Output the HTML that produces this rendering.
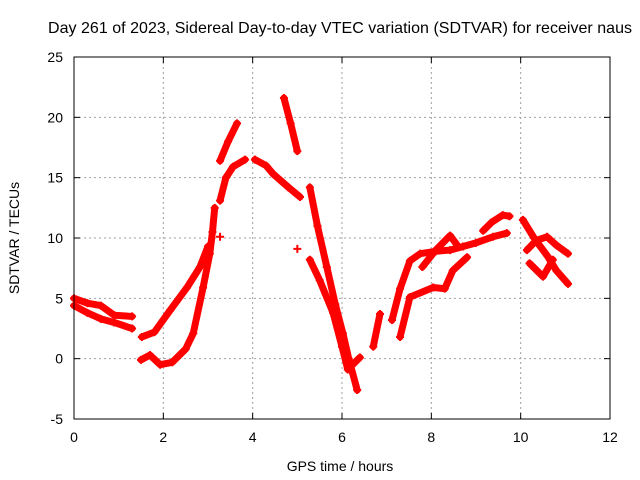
<!DOCTYPE html>
<html><head><meta charset="utf-8"><style>
body{margin:0;background:#fff;}
svg{display:block;font-family:"Liberation Sans",sans-serif;}
</style></head><body>
<svg id="chart" width="640" height="480">
<rect width="640" height="480" fill="#fff"/>
<text x="340" y="33" font-size="16" text-anchor="middle" textLength="584">Day 261 of 2023, Sidereal Day-to-day VTEC variation (SDTVAR) for receiver naus</text>
<text x="340" y="471" font-size="14" text-anchor="middle">GPS time / hours</text>
<text x="0" y="0" font-size="14" text-anchor="middle" transform="translate(19,238) rotate(-90)">SDTVAR / TECUs</text>
<g id="grid"></g>
<g id="ticks"></g>
<g id="series"></g>
<rect x="74" y="57" width="536" height="362" fill="none" stroke="#000" stroke-width="1"/>
</svg>
<script>
const xTicks=[0,2,4,6,8,10,12];
const yTicks=[-5,0,5,10,15,20,25];
const trace1=[[0,5.0],[0.3,4.6],[0.6,4.4],[0.9,3.6],[1.3,3.5]];
const trace2=[[0,4.4],[0.3,3.8],[0.6,3.3],[0.9,3.0],[1.3,2.5]];
const trace3=[[1.5,-0.1],[1.7,0.3],[1.93,-0.5],[2.2,-0.3],[2.5,0.8],[2.67,2.1],[2.89,5.9],[3.04,8.7],[3.1,10.5],[3.15,12.5]];
const trace4=[[1.52,1.8],[1.8,2.2],[2.15,4.0],[2.53,5.9],[2.82,7.6],[3.0,9.3]];
const trace5=[[3.27,13.1],[3.4,15.0],[3.56,15.9],[3.83,16.5]];
const trace6=[[3.27,16.4],[3.45,18.0],[3.65,19.5]];
const trace7=[[4.05,16.5],[4.3,16.0],[4.46,15.3],[4.8,14.2],[5.06,13.4]];
const trace8=[[4.7,21.6],[4.85,19.5],[5.0,17.2]];
const trace9=[[5.28,14.2],[5.45,11.0],[5.66,7.6],[5.85,4.5],[6.02,2.1],[6.15,0],[6.34,-2.6]];
const trace10=[[5.28,8.2],[5.5,6.5],[5.8,3.8],[6.0,1.0],[6.13,-0.9],[6.4,0.1]];
const trace11=[[6.7,1.0],[6.85,3.7]];
const trace12=[[7.12,3.2],[7.3,5.8],[7.52,8.1],[7.75,8.7],[8.1,8.9],[8.42,9.0],[8.71,9.3],[9.0,9.6],[9.38,10.1],[9.69,10.4]];
const trace13=[[7.8,7.6],[8.1,9.0],[8.42,10.2],[8.6,9.3]];
const trace14=[[9.16,10.6],[9.35,11.3],[9.6,11.9],[9.75,11.8]];
const trace15=[[7.3,1.8],[7.52,5.1],[8.04,5.9],[8.3,5.8],[8.48,7.3],[8.8,8.4]];
const trace16=[[10.05,11.5],[10.3,10.0],[10.6,8.5],[10.8,7.3],[11.06,6.2]];
const trace17=[[10.14,9.0],[10.35,9.8],[10.59,10.1],[10.8,9.4],[11.06,8.7]];
const trace18=[[10.2,7.9],[10.5,6.8],[10.72,8.2]];
const singles=[[3.27,10.1],[5.0,9.1]];
const traces=[trace1,trace2,trace3,trace4,trace5,trace6,trace7,trace8,trace9,trace10,trace11,trace12,trace13,trace14,trace15,trace16,trace17,trace18];

const NS='http://www.w3.org/2000/svg';
const X0=74,X1=610,Y0=419,Y1=57;
function sx(v){return X0+(v-0)/(12-0)*(X1-X0);}
function sy(v){return Y0-(v+5)/(25+5)*(Y0-Y1);}
function mk(tag,attrs,parent){const e=document.createElementNS(NS,tag);for(const k in attrs)e.setAttribute(k,attrs[k]);parent.appendChild(e);return e;}
const grid=document.getElementById('grid'),ticks=document.getElementById('ticks'),series=document.getElementById('series');
xTicks.forEach(t=>{
  const x=sx(t);
  if(t>0&&t<12){const l=mk('line',{x1:x,x2:x,y1:Y1,y2:Y0,stroke:'#a0a0a0','stroke-dasharray':'2,3'},grid);
  
  }
  mk('line',{x1:x,x2:x,y1:Y0,y2:Y0-6,stroke:'#000'},ticks);
  mk('line',{x1:x,x2:x,y1:Y1,y2:Y1+6,stroke:'#000'},ticks);
  const tx=mk('text',{x:x,y:442,'font-size':14,'text-anchor':'middle'},ticks);tx.textContent=t;
  
  
});
yTicks.forEach(t=>{
  const y=sy(t);
  if(t>-5&&t<25){const l=mk('line',{x1:X0,x2:X1,y1:y,y2:y,stroke:'#a0a0a0','stroke-dasharray':'2,3'},grid);
  
  }
  mk('line',{x1:X0,x2:X0+6,y1:y,y2:y,stroke:'#000'},ticks);
  mk('line',{x1:X1,x2:X1-6,y1:y,y2:y,stroke:'#000'},ticks);
  const tx=mk('text',{x:63,y:y+5,'font-size':14,'text-anchor':'end'},ticks);tx.textContent=t;
  
  
});
function plus(x,y){
  const p=mk('path',{d:`M${x-4},${y}h8M${x},${y-4}v8`,stroke:'#f00','stroke-width':2,fill:'none'},series);
  
  
}
traces.forEach(tr=>{
  const pl=mk('polyline',{points:tr.map(p=>sx(p[0])+','+sy(p[1])).join(' '),fill:'none',stroke:'#f00','stroke-width':7,'stroke-linejoin':'round','stroke-linecap':'round'},series);
  
  
  tr.forEach(p=>plus(sx(p[0]),sy(p[1])));
});
singles.forEach(p=>plus(sx(p[0]),sy(p[1])));
</script>
</body></html>
